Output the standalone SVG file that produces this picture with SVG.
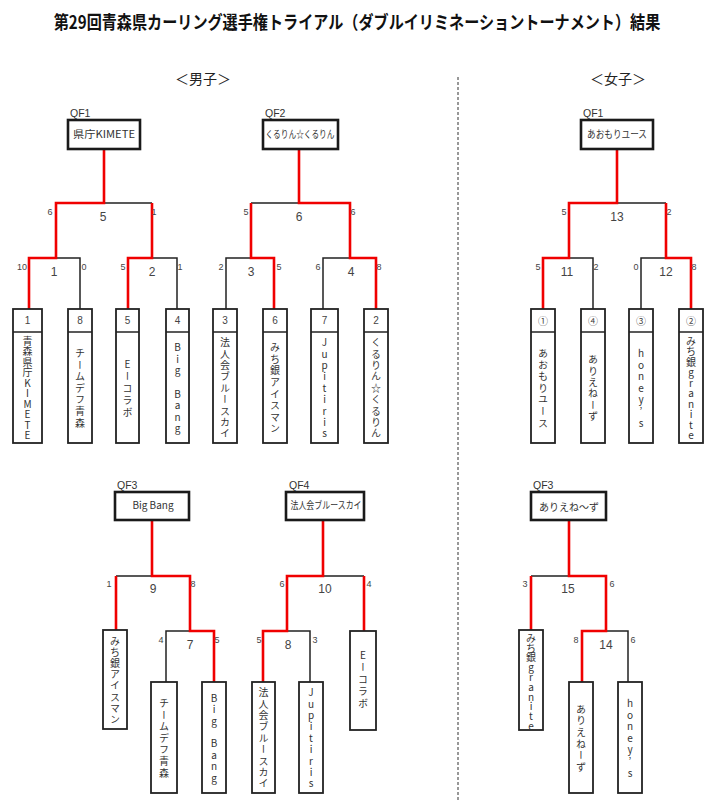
<svg xmlns="http://www.w3.org/2000/svg" width="711" height="800" viewBox="0 0 711 800">
<style>
.title{font-family:"Noto Sans CJK JP",sans-serif;font-size:18px;font-weight:bold;fill:#111}
.sec{font-family:"Noto Sans CJK JP",sans-serif;font-size:14px;fill:#222}
.qf{font-family:"Liberation Sans","Noto Sans CJK JP",sans-serif;font-size:10.5px;fill:#333}
.wbox{fill:#fff;stroke:#1a1a1a;stroke-width:2.6}
.wt{font-family:"Noto Sans CJK JP",sans-serif;font-size:10px;fill:#333;text-anchor:middle}
.tbox{fill:#fff;stroke:#222;stroke-width:1.8}
.num{font-family:"Liberation Sans","Noto Sans CJK JP",sans-serif;font-size:10px;fill:#444;text-anchor:middle}
.vt{font-family:"Noto Sans CJK JP",sans-serif;font-size:10px;fill:#333;writing-mode:vertical-rl;text-orientation:upright}
.sc{font-family:"Liberation Sans",sans-serif;font-size:9px;fill:#444;text-anchor:middle}
.mn{font-family:"Liberation Sans",sans-serif;font-size:12px;fill:#444;text-anchor:middle}
.bl{fill:none;stroke:#222;stroke-width:1.5}
.rd{fill:none;stroke:#f00000;stroke-width:2.6}
</style>
<rect width="711" height="800" fill="#fff"/>
<text class="title" transform="translate(357,29) scale(0.84,1)" text-anchor="middle">第29回青森県カーリング選手権トライアル（ダブルイリミネーショントーナメント）結果</text>
<text class="sec" x="203" y="84" text-anchor="middle">＜男子＞</text>
<text class="sec" x="618" y="84" text-anchor="middle">＜女子＞</text>
<line x1="458" y1="77" x2="458" y2="800" stroke="#333" stroke-width="1" stroke-dasharray="3,2"/>

<g id="connectors">
<path class="bl" d="M104,203H152 M56,258H80V309 M152,258H177V309"/>
<path class="bl" d="M251,203H299 M226,309V258H251 M323,309V258H350"/>
<path class="bl" d="M617,203H666 M569,258H593V309 M641,309V258H666"/>
<path class="bl" d="M116,576H152 M166,682V631H190"/>
<path class="bl" d="M323,576H364 M287,631H310V682"/>
<path class="bl" d="M531,576H569 M606,631H628V682"/>
<path class="rd" d="M104,149V203H56V258H29V309 M152,203V258H128V309"/>
<path class="rd" d="M299,149V203H350V258H376V309 M251,203V258H274V309"/>
<path class="rd" d="M617,149V203H569V258H543V309 M666,203V258H691V309"/>
<path class="rd" d="M152,520V576H190V631H214V682 M116,576V630"/>
<path class="rd" d="M323,520V576H287V631H263V682 M364,576V631"/>
<path class="rd" d="M569,520V576H606V631H582V682 M531,576V630"/>
</g>

<g id="scores">
<text class="sc" x="50" y="215">6</text><text class="mn" x="103" y="221">5</text><text class="sc" x="154" y="215">1</text>
<text class="sc" x="22" y="270">10</text><text class="mn" x="54" y="276">1</text><text class="sc" x="84" y="270">0</text>
<text class="sc" x="123" y="270">5</text><text class="mn" x="152" y="276">2</text><text class="sc" x="180" y="270">1</text>
<text class="sc" x="246" y="215">5</text><text class="mn" x="299" y="221">6</text><text class="sc" x="353" y="215">6</text>
<text class="sc" x="221" y="270">2</text><text class="mn" x="251" y="276">3</text><text class="sc" x="279" y="270">5</text>
<text class="sc" x="318" y="270">6</text><text class="mn" x="351" y="276">4</text><text class="sc" x="379" y="270">8</text>
<text class="sc" x="564" y="215">5</text><text class="mn" x="617" y="221">13</text><text class="sc" x="669" y="215">2</text>
<text class="sc" x="538" y="270">5</text><text class="mn" x="567" y="276">11</text><text class="sc" x="596" y="270">2</text>
<text class="sc" x="636" y="270">0</text><text class="mn" x="666" y="276">12</text><text class="sc" x="694" y="270">8</text>
<text class="sc" x="109" y="587" font-size="10">1</text><text class="mn" x="153" y="593" font-size="11">9</text><text class="sc" x="193" y="587" font-size="10">8</text>
<text class="sc" x="161" y="643" font-size="10">4</text><text class="mn" x="190" y="649" font-size="11">7</text><text class="sc" x="217" y="643" font-size="10">5</text>
<text class="sc" x="282" y="587" font-size="10">6</text><text class="mn" x="325" y="593" font-size="11">10</text><text class="sc" x="369" y="587" font-size="10">4</text>
<text class="sc" x="259" y="643" font-size="10">5</text><text class="mn" x="288" y="649" font-size="11">8</text><text class="sc" x="315" y="643" font-size="10">3</text>
<text class="sc" x="525" y="587" font-size="10">3</text><text class="mn" x="568" y="593" font-size="11">15</text><text class="sc" x="612" y="587" font-size="10">6</text>
<text class="sc" x="576" y="643" font-size="10">8</text><text class="mn" x="606" y="649" font-size="11">14</text><text class="sc" x="633" y="643" font-size="10">6</text>
</g>

<g id="m-qf1"><text class="qf" x="70" y="117">QF1</text><rect class="wbox" x="68" y="120" width="72" height="29"/><text class="wt" x="104" y="138" font-size="11" textLength="62" lengthAdjust="spacingAndGlyphs">県庁KIMETE</text></g>
<g id="m-qf2"><text class="qf" x="265" y="117">QF2</text><rect class="wbox" x="263" y="120" width="75" height="29"/><text class="wt" x="300" y="138" textLength="69" lengthAdjust="spacingAndGlyphs">くるりん☆くるりん</text></g>
<g id="w-qf1"><text class="qf" x="583" y="117">QF1</text><rect class="wbox" x="581" y="120" width="72" height="29"/><text class="wt" x="617" y="138" textLength="60" lengthAdjust="spacingAndGlyphs">あおもりユース</text></g>
<g id="m-qf3"><text class="qf" x="117" y="489">QF3</text><rect class="wbox" x="115" y="492" width="74" height="28"/><text class="wt" x="153" y="509" font-size="9.5">Big Bang</text></g>
<g id="m-qf4"><text class="qf" x="289" y="489">QF4</text><rect class="wbox" x="286" y="492" width="78" height="28"/><text class="wt" x="326" y="509" textLength="71" lengthAdjust="spacingAndGlyphs">法人会ブルースカイ</text></g>
<g id="w-qf3"><text class="qf" x="533" y="489">QF3</text><rect class="wbox" x="531" y="492" width="75" height="28"/><text class="wt" x="569" y="511" font-size="12" textLength="60" lengthAdjust="spacingAndGlyphs">ありえね〜ず</text></g>

<g id="m-t1"><rect class="tbox" x="13" y="309" width="29" height="134"/><line class="bl" x1="13" y1="332" x2="42" y2="332"/><text class="num" x="27.5" y="324">1</text>
<text class="vt" x="27.5" y="335.75 346.25 356.75 367.25 377.75 388.25 398.75 409.25 419.75 430.25">青森県庁KIMETE</text></g>
<g id="m-t8"><rect class="tbox" x="68" y="309" width="24" height="134"/><line class="bl" x1="68" y1="332" x2="92" y2="332"/><text class="num" x="80" y="324">8</text>
<text class="vt" x="80" y="348.2 359.8 371.4 383 394.6 406.2 417.8">チームデフ青森</text></g>
<g id="m-t5"><rect class="tbox" x="116" y="309" width="23" height="134"/><line class="bl" x1="116" y1="332" x2="139" y2="332"/><text class="num" x="127.5" y="324">5</text>
<text class="vt" x="127.5" y="359 371 383 395 407">Eーコラボ</text></g>
<g id="m-t4"><rect class="tbox" x="166" y="309" width="23" height="134"/><line class="bl" x1="166" y1="332" x2="189" y2="332"/><text class="num" x="177.5" y="324">4</text>
<text class="vt" x="177.5" y="342.4 354 365.6 377.2 388.8 400.4 412 423.6">Big Bang</text></g>
<g id="m-t3"><rect class="tbox" x="213" y="309" width="24" height="134"/><line class="bl" x1="213" y1="332" x2="237" y2="332"/><text class="num" x="225" y="324">3</text>
<text class="vt" x="225" y="337.4 348.8 360.2 371.6 383 394.4 405.8 417.2 428.6">法人会ブルースカイ</text></g>
<g id="m-t6"><rect class="tbox" x="263" y="309" width="24" height="134"/><line class="bl" x1="263" y1="332" x2="287" y2="332"/><text class="num" x="275" y="324">6</text>
<text class="vt" x="275" y="342.4 354 365.6 377.2 388.8 400.4 412 423.6">みち銀アイスマン</text></g>
<g id="m-t7"><rect class="tbox" x="311" y="309" width="27" height="134"/><line class="bl" x1="311" y1="332" x2="338" y2="332"/><text class="num" x="324.5" y="324">7</text>
<text class="vt" x="324.5" y="337.4 348.8 360.2 371.6 383 394.4 405.8 417.2 428.6">Jupitiris</text></g>
<g id="m-t2"><rect class="tbox" x="364" y="309" width="24" height="134"/><line class="bl" x1="364" y1="332" x2="388" y2="332"/><text class="num" x="376" y="324">2</text>
<text class="vt" x="376" y="337.4 348.8 360.2 371.6 383 394.4 405.8 417.2 428.6">くるりん☆くるりん</text></g>

<g id="w-t1"><rect class="tbox" x="531" y="309" width="24" height="134"/><line class="bl" x1="531" y1="332" x2="555" y2="332"/><text class="num" x="543" y="325" font-family="Noto Sans CJK JP">①</text>
<text class="vt" x="543" y="348.2 359.8 371.4 383 394.6 406.2 417.8">あおもりユース</text></g>
<g id="w-t4"><rect class="tbox" x="581" y="309" width="24" height="134"/><line class="bl" x1="581" y1="332" x2="605" y2="332"/><text class="num" x="593" y="325" font-family="Noto Sans CJK JP">④</text>
<text class="vt" x="593" y="354.5 365.9 377.3 388.7 400.1 411.5">ありえねーず</text></g>
<g id="w-t3"><rect class="tbox" x="629" y="309" width="24" height="134"/><line class="bl" x1="629" y1="332" x2="653" y2="332"/><text class="num" x="641" y="325" font-family="Noto Sans CJK JP">③</text>
<text class="vt" x="641" y="348.2 359.8 371.4 383 394.6 406.2 417.8">honey’s</text></g>
<g id="w-t2"><rect class="tbox" x="679" y="309" width="24" height="134"/><line class="bl" x1="679" y1="332" x2="703" y2="332"/><text class="num" x="691" y="325" font-family="Noto Sans CJK JP">②</text>
<text class="vt" x="691" y="335.75 346.25 356.75 367.25 377.75 388.25 398.75 409.25 419.75 430.25">みち銀granite</text></g>

<g id="m-l-michigin"><rect class="tbox" x="103" y="630" width="24" height="99"/>
<text class="vt" x="115" y="635.8 647 658.2 669.4 680.6 691.8 703 714.2">みち銀アイスマン</text></g>
<g id="m-l-team"><rect class="tbox" x="151" y="682" width="26" height="111"/>
<text class="vt" x="164" y="698.2 709.8 721.4 733 744.6 756.2 767.8">チームデフ青森</text></g>
<g id="m-l-bigbang"><rect class="tbox" x="202" y="682" width="24" height="111"/>
<text class="vt" x="214" y="693.1 704.5 715.9 727.3 738.7 750.1 761.5 772.9">Big Bang</text></g>
<g id="m-l-houjin"><rect class="tbox" x="252" y="682" width="23" height="111"/>
<text class="vt" x="263.5" y="687.4 698.8 710.2 721.6 733 744.4 755.8 767.2 778.6">法人会ブルースカイ</text></g>
<g id="m-l-jupi"><rect class="tbox" x="299" y="682" width="24" height="111"/>
<text class="vt" x="311" y="687.4 698.8 710.2 721.6 733 744.4 755.8 767.2 778.6">Jupitiris</text></g>
<g id="m-l-ecollab"><rect class="tbox" x="350" y="631" width="26" height="99"/>
<text class="vt" x="363" y="650 662 674 686 698">Eーコラボ</text></g>

<g id="w-l-michigin"><rect class="tbox" x="519" y="630" width="24" height="100"/>
<text class="vt" x="531" y="633 642.8 652.6 662.4 672.2 682 691.8 701.6 711.4 721.2" font-size="9">みち銀granite</text></g>
<g id="w-l-arie"><rect class="tbox" x="569" y="682" width="24" height="111"/>
<text class="vt" x="581" y="704 715.6 727.2 738.8 750.4 762">ありえねーず</text></g>
<g id="w-l-honey"><rect class="tbox" x="618" y="682" width="24" height="111"/>
<text class="vt" x="630" y="698.2 709.8 721.4 733 744.6 756.2 767.8">honey’s</text></g>
</svg>
